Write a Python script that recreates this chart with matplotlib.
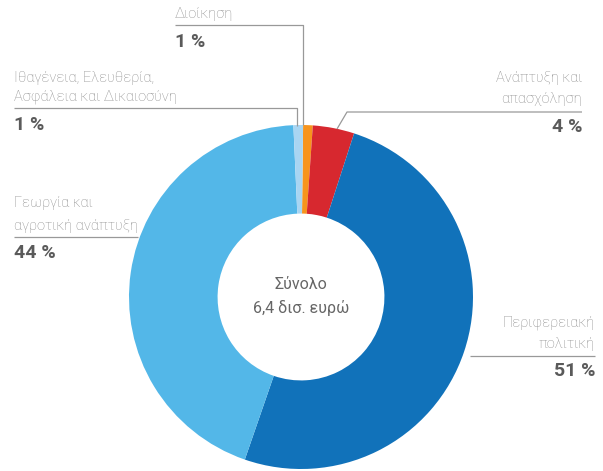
import matplotlib.pyplot as plt

W, H = 603, 471

# data
categories = ['Διοίκηση', 'Ανάπτυξη και\nαπασχόληση', 'Περιφερειακή\nπολιτική',
              'Γεωργία και\nαγροτική ανάπτυξη', 'Ιθαγένεια, Ελευθερία,\nΑσφάλεια και Δικαιοσύνη']
shares = [0.9, 3.9, 50.3, 44.0, 0.9]
labels_pct = ['1 %', '4 %', '51 %', '44 %', '1 %']
colors = ['#F7941D', '#D7282F', '#1172BA', '#53B7E8', '#A8D5F2']
total_text = 'Σύνολο\n6,4 δισ. ευρώ'

plt.rcParams['font.family'] = ['Roboto', 'DejaVu Sans']
label_col = '#8c8c8c'
pct_col = '#5a5a5a'
line_col = '#999999'

fig = plt.figure(figsize=(W / 100, H / 100), dpi=100)
ax = fig.add_axes([0, 0, 1, 1])

def Y(y):
    return H - y

cx, cy, r = 301, 297, 172
ax.pie(shares, colors=colors, startangle=89.3, counterclock=False,
       center=(cx, Y(cy)), radius=r, wedgeprops=dict(width=r * 0.515, linewidth=0))
ax.set_xlim(0, W)
ax.set_ylim(0, H)
ax.set_aspect('equal')
ax.axis('off')

# centre text
ax.text(cx, Y(289), total_text.split('\n')[0], ha='center', va='baseline', fontsize=11.5, color='#666666')
ax.text(cx, Y(313), total_text.split('\n')[1], ha='center', va='baseline', fontsize=11.5, color='#666666')

def label(x, ys, lines, pct, pct_y, ha):
    for yy, t in zip(ys, lines):
        ax.text(x, Y(yy), t, ha=ha, va='baseline', fontsize=10.5, color=label_col, fontweight='light')
    ax.text(x, Y(pct_y), pct, ha=ha, va='baseline', fontsize=14, color=pct_col, fontweight='bold')

def leader(xs, ys):
    ax.plot(xs, [Y(v) for v in ys], color=line_col, lw=0.9, solid_capstyle='butt')

# Διοίκηση
label(175, [18], categories[0].split('\n'), labels_pct[0], 47, 'left')
leader([175, 303, 303], [25, 25, 125])

# Ιθαγένεια ...
label(14, [82, 100], categories[4].split('\n'), labels_pct[4], 130, 'left')
leader([14, 297, 297], [108, 108, 126])

# Ανάπτυξη και απασχόληση
label(582, [82, 103], categories[1].split('\n'), labels_pct[1], 132, 'right')
leader([582, 347, 337], [112, 112, 129])

# Γεωργία
label(14, [207, 230], categories[3].split('\n'), labels_pct[3], 258, 'left')
leader([14, 138], [237, 237])

# Περιφερειακή πολιτική
label(595, [326, 348], categories[2].split('\n'), labels_pct[2], 376, 'right')
leader([470, 595], [356, 356])

fig.savefig('out.png', dpi=100)
